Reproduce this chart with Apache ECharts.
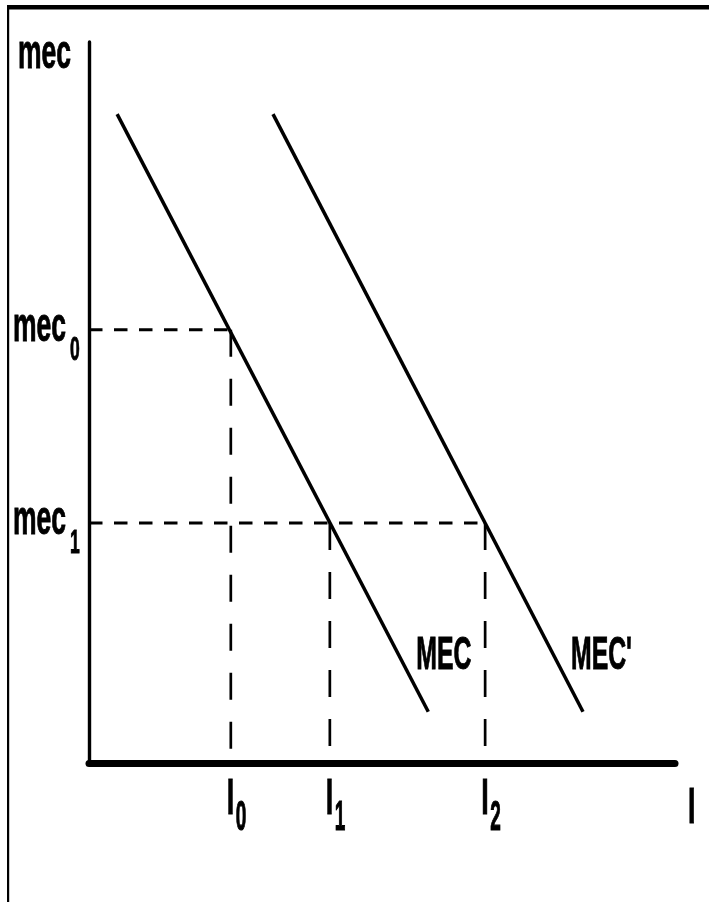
<!DOCTYPE html>
<html>
<head>
<meta charset="utf-8">
<script src="https://cdn.jsdelivr.net/npm/echarts@6/dist/echarts.min.js"></script>
<style>
html,body{margin:0;padding:0;background:#fff;}
#chart{width:709px;height:902px;}
</style>
</head>
<body>
<div id="chart"></div>
<script>
// ---- data ----
const mecLevels = [60.1, 33.3];          // mec0, mec1
const iLevels = [24.2, 41.1, 67.6];      // I0, I1, I2
const mecCurve = [[4.8, 90.0], [57.9, 7.1]];
const mecPrimeCurve = [[31.4, 90.0], [84.3, 7.1]];
const yTickMain = ['mec', 'mec'];
const yTickSub = ['0', '1'];
const xTickMain = ['I', 'I', 'I'];
const xTickSub = ['0', '1', '2'];
const yAxisName = 'mec';
const xAxisName = 'I';
const curveNames = ['MEC', "MEC'"];
const axisMax = [100, 100];

const FONT = 'Liberation Sans, Arial, sans-serif';

// label specs (anchored to data coordinates)
const labelSpecs = [];
labelSpecs.push({anchor: [0, axisMax[1]], parts: [{t: yAxisName, dx: -71, base: 30, F: 26.5, s: 1.82}]});
mecLevels.forEach((v, i) => {
  labelSpecs.push({anchor: [0, v], parts: [
    {t: yTickMain[i], dx: -76, base: 15, F: 26.5, s: 1.82},
    {t: yTickSub[i], dx: -19, base: 33, F: 17.5, s: 1.85}
  ]});
});
iLevels.forEach((v, i) => {
  labelSpecs.push({anchor: [v, 0], parts: [
    {t: xTickMain[i], dx: -4, base: 54, F: 27, s: 1.82},
    {t: xTickSub[i], dx: 5, base: 70, F: 19, s: 2.2}
  ]});
});
labelSpecs.push({anchor: [axisMax[0], 0], parts: [{t: xAxisName, dx: 13, base: 63, F: 27, s: 1.82}]});
[mecCurve, mecPrimeCurve].forEach((c, i) => {
  labelSpecs.push({anchor: c[1], parts: [{t: curveNames[i], dx: -12, base: -39, F: 24.8, s: 1.86}]});
});

function renderLabel(params, api) {
  const spec = labelSpecs[params.dataIndex];
  const p = api.coord(spec.anchor);
  return {
    type: 'group',
    children: spec.parts.map(pt => ({
      type: 'text',
      x: p[0] + pt.dx,
      y: p[1] + pt.base + 0.1535 * pt.F * pt.s,
      scaleY: pt.s,
      style: {
        text: pt.t, fontSize: pt.F, fontWeight: 'bold', fontFamily: FONT,
        fill: '#000', stroke: '#000', lineWidth: 0.5,
        align: 'left', verticalAlign: 'bottom'
      }
    }))
  };
}

const hDash = {color: '#000', width: 3, type: [13.5, 11.5]};
const vDash = {color: '#000', width: 2.7, type: [27, 22]};

const series = [];
function addLine(data, lineStyle, z) {
  series.push({type: 'line', data: data, showSymbol: false, symbol: 'none', silent: true,
    lineStyle: lineStyle, z: z, animation: false});
}
// horizontal guides
addLine([[0, mecLevels[0]], [iLevels[0], mecLevels[0]]], hDash, 2);
addLine([[0, mecLevels[1]], [iLevels[2], mecLevels[1]]], hDash, 2);
// vertical guides
addLine([[iLevels[0], mecLevels[0]], [iLevels[0], 0]], vDash, 2);
addLine([[iLevels[1], mecLevels[1]], [iLevels[1], 0]], vDash, 2);
addLine([[iLevels[2], mecLevels[1]], [iLevels[2], 0]], vDash, 2);
// curves
addLine(mecCurve, {color: '#000', width: 3.5}, 3);
addLine(mecPrimeCurve, {color: '#000', width: 3.5}, 3);
// labels
series.push({type: 'custom', renderItem: renderLabel, data: labelSpecs.map(s => s.anchor),
  silent: true, z: 10, animation: false, clip: false});

const chart = echarts.init(document.getElementById('chart'), null, {renderer: 'canvas'});
chart.setOption({
  backgroundColor: '#fff',
  animation: false,
  grid: {left: 89, right: 34, top: 42, bottom: 139, containLabel: false},
  xAxis: {type: 'value', min: 0, max: axisMax[0],
    axisLine: {show: true, onZero: false, lineStyle: {color: '#000', width: 7}},
    axisTick: {show: false}, axisLabel: {show: false}, splitLine: {show: false}},
  yAxis: {type: 'value', min: 0, max: axisMax[1],
    axisLine: {show: true, onZero: false, lineStyle: {color: '#000', width: 3.4}},
    axisTick: {show: false}, axisLabel: {show: false}, splitLine: {show: false}},
  graphic: [
    {type: 'rect', shape: {x: 7, y: 5, width: 702, height: 4.5}, style: {fill: '#000'}, z: 20},
    {type: 'rect', shape: {x: 7, y: 5, width: 2.2, height: 897}, style: {fill: '#000'}, z: 20}
  ],
  series: series
});
</script>
</body>
</html>
